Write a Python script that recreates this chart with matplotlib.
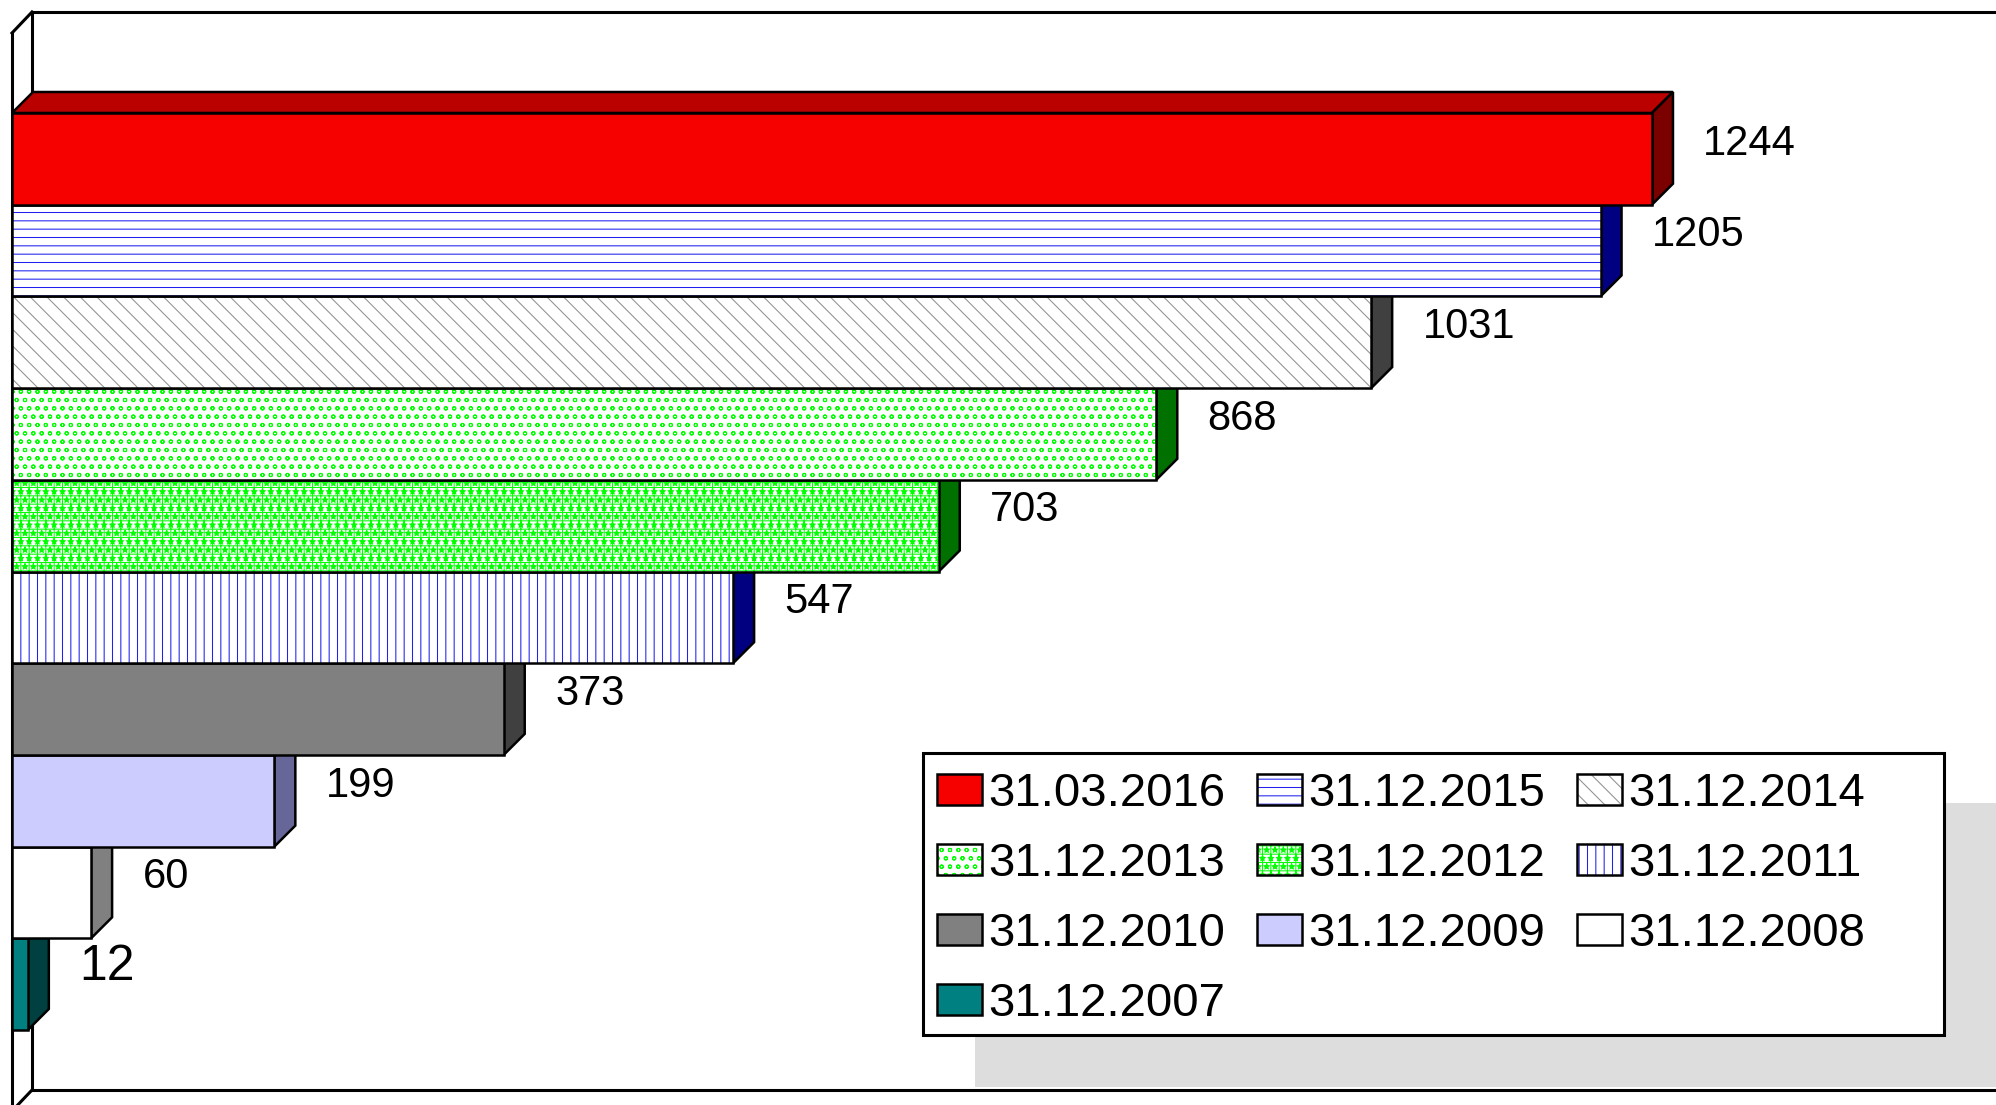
import matplotlib
matplotlib.use('Agg')
import matplotlib.pyplot as plt
from matplotlib.patches import Polygon, Rectangle, Patch
from matplotlib.transforms import Affine2D
from matplotlib.lines import Line2D

plt.rcParams['font.family'] = ['Liberation Sans', 'DejaVu Sans']
plt.rcParams['hatch.linewidth'] = 0.75

# data: one series per date, top bar first
dates = ['31.03.2016', '31.12.2015', '31.12.2014', '31.12.2013', '31.12.2012',
         '31.12.2011', '31.12.2010', '31.12.2009', '31.12.2008', '31.12.2007']
counts = [1244, 1205, 1031, 868, 703, 547, 373, 199, 60, 12]

# look of each series
faces = ['#f70000', 'white', 'white', 'white', 'white',
         'white', '#808080', '#ccccff', 'white', '#008080']
hatches = [None, '--', '\\\\', 'oo', '++**', '||', None, None, None, None]
hatch_cols = ['#f70000', '#2020f0', '#909090', '#00ff00', '#00ff00',
              '#2020f0', '#808080', '#ccccff', 'white', '#008080']
sides = ['#7b0000', '#000080', '#404040', '#007000', '#007000',
         '#000080', '#404040', '#666699', '#808080', '#004040']
top_face = '#bb0000'

W, H, DPI = 1996, 1105, 100
X0_PX, PX_PER_UNIT = 12, 1.3183       # where value 0 sits, and scale
ROW_TOP, ROW_H = 113, 91.7            # top of first bar, bar height (px)
DEPTH = 21                            # 3d depth in px

fig = plt.figure(figsize=(W / DPI, H / DPI), dpi=DPI)
ax = fig.add_axes([0, 0, 1, 1])
ax.set_xlim(-X0_PX / PX_PER_UNIT, (W - X0_PX) / PX_PER_UNIT)
ax.set_ylim((H - ROW_TOP) / ROW_H - 0.5, -ROW_TOP / ROW_H - 0.5)
ax.axis('off')

# pixel transform (origin top-left) for frame + legend box
pix = Affine2D().scale(1 / DPI, -1 / DPI).translate(0, H / DPI) + fig.dpi_scale_trans

frame_lw = 2.2
frame = [((32, 12), (W, 12)), ((32, 12), (32, 1090)), ((32, 1090), (W, 1090)),
         ((12, 33), (32, 12)), ((32, 1090), (12, 1111)), ((12, 33), (12, H))]
for (x1, y1), (x2, y2) in frame:
    ax.add_line(Line2D([x1, x2], [y1, y2], color='black', lw=frame_lw,
                       transform=pix, zorder=1, solid_capstyle='projecting'))

dx = DEPTH / PX_PER_UNIT
dy = DEPTH / ROW_H
edge_lw = 1.8

# bottom bar first so upper bars hide the lower top faces
for i in range(len(counts) - 1, -1, -1):
    v = counts[i]
    top, bot = i - 0.5, i + 0.5
    # top face
    ax.add_patch(Polygon([(0, top), (dx, top - dy), (v + dx, top - dy), (v, top)],
                         closed=True, facecolor=top_face, edgecolor='black',
                         lw=edge_lw, zorder=2, joinstyle='miter'))
    # side face
    ax.add_patch(Polygon([(v, top), (v + dx, top - dy), (v + dx, bot - dy), (v, bot)],
                         closed=True, facecolor=sides[i], edgecolor='black',
                         lw=edge_lw, zorder=2, joinstyle='miter'))
    # front
    ax.barh(i, v, height=1, color=faces[i], hatch=hatches[i],
            edgecolor=hatch_cols[i], lw=0, zorder=2)
    ax.barh(i, v, height=1, fill=False, edgecolor='black', lw=edge_lw, zorder=2)
    # value label
    ax.annotate(str(v), xy=(v, i), xytext=(37, 3), textcoords='offset points',
                ha='left', va='baseline', fontsize=36 if v < 50 else 30,
                color='black', zorder=3)

# legend box with flat grey shadow
ax.add_patch(Rectangle((975, 803), W - 975, 1087 - 803, facecolor='#dddddd',
                       edgecolor='none', transform=pix, zorder=20))
ax.add_patch(Rectangle((923, 753), 1944 - 923, 1035 - 753, facecolor='white',
                       edgecolor='black', lw=frame_lw, transform=pix, zorder=21))

handles = []
for i in range(len(dates)):
    fillp = Patch(facecolor=faces[i], hatch=hatches[i], edgecolor=hatch_cols[i], lw=0)
    outline = Patch(fill=False, edgecolor='black', lw=edge_lw)
    handles.append((fillp, outline))

# matplotlib fills legend columns first: reorder so rows read left to right
order = [0, 3, 6, 9, 1, 4, 7, 2, 5, 8]
leg = ax.legend([handles[k] for k in order], [dates[k] for k in order],
                ncol=3, loc='upper left', bbox_to_anchor=(937, 772),
                bbox_transform=pix, frameon=False, fontsize=34,
                borderpad=0, borderaxespad=0, handlelength=0.95,
                handleheight=0.63, handletextpad=0.13, columnspacing=0.68,
                labelspacing=0.55)
leg.set_zorder(30)

fig.savefig('out.png', dpi=DPI)
